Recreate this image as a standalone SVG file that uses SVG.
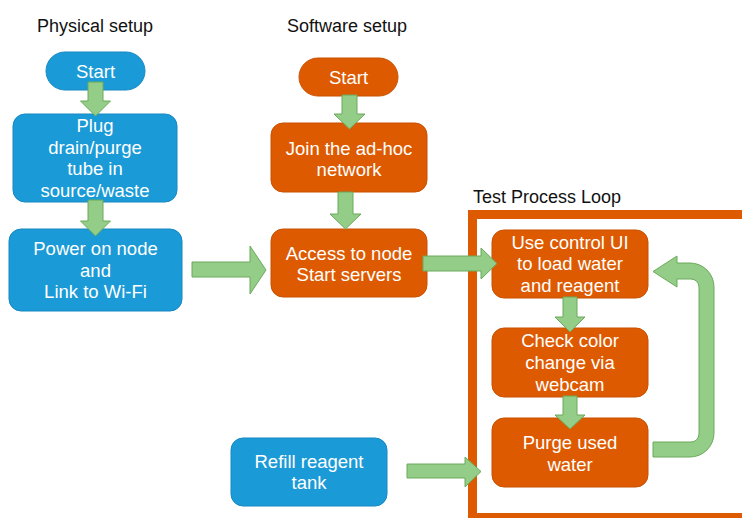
<svg xmlns="http://www.w3.org/2000/svg" width="742" height="518" viewBox="0 0 742 518">
<style>
.title{font-family:"Liberation Sans","Noto Sans",sans-serif;font-size:18px;fill:#111}
.t{font-family:"Liberation Sans","Noto Sans",sans-serif;font-size:18.5px;fill:#fff;text-anchor:middle}
.blue{fill:#1A9AD6;stroke:#1788C2;stroke-width:1}
.orange{fill:#DE5A00;stroke:#C85100;stroke-width:1}
.arrow{fill:#93CD87;stroke:#6BAA5C;stroke-width:1;stroke-linejoin:miter}
</style>
<rect width="742" height="518" fill="#fff"/>
<text class="title" x="37" y="32">Physical setup</text>
<text class="title" x="287" y="32">Software setup</text>
<g id="loop">
<rect x="472.5" y="214.5" width="300" height="303" fill="none" stroke="#DE5A00" stroke-width="9"/>
<text class="title" x="473" y="203">Test Process Loop</text>
</g>
<g id="start1"><rect class="blue" x="46" y="52" width="99" height="38" rx="19"/><text class="t" x="95.5" y="78">Start</text></g>
<g id="plug"><rect class="blue" x="13" y="114" width="164" height="88" rx="12"/>
<text class="t" x="95" y="132">Plug</text><text class="t" x="95" y="153.5">drain/purge</text><text class="t" x="95" y="175">tube in</text><text class="t" x="95" y="196.5">source/waste</text></g>
<g id="power"><rect class="blue" x="9" y="229" width="173" height="82" rx="12"/>
<text class="t" x="95.5" y="255">Power on node</text><text class="t" x="95.5" y="276.5">and</text><text class="t" x="95.5" y="298">Link to Wi-Fi</text></g>
<g id="start2"><rect class="orange" x="299" y="58" width="99" height="38" rx="19"/><text class="t" x="348.5" y="84">Start</text></g>
<g id="join"><rect class="orange" x="271" y="123" width="156" height="69" rx="12"/>
<text class="t" x="349" y="155">Join the ad-hoc</text><text class="t" x="349" y="176">network</text></g>
<g id="access"><rect class="orange" x="271" y="229" width="156" height="68" rx="12"/>
<text class="t" x="349" y="260">Access to node</text><text class="t" x="349" y="281">Start servers</text></g>
<g id="use"><rect class="orange" x="492" y="230" width="156" height="68" rx="12"/>
<text class="t" x="570" y="248.5">Use control UI</text><text class="t" x="570" y="270">to load water</text><text class="t" x="570" y="291.5">and reagent</text></g>
<g id="check"><rect class="orange" x="492" y="328" width="156" height="69" rx="12"/>
<text class="t" x="570" y="347">Check color</text><text class="t" x="570" y="369">change via</text><text class="t" x="570" y="391">webcam</text></g>
<g id="purge"><rect class="orange" x="492" y="418" width="156" height="69" rx="12"/>
<text class="t" x="570" y="449">Purge used</text><text class="t" x="570" y="471">water</text></g>
<g id="refill"><rect class="blue" x="231" y="438" width="156" height="68" rx="12"/>
<text class="t" x="309" y="468">Refill reagent</text><text class="t" x="309" y="489">tank</text></g>
<g id="connectors">
<polygon class="arrow" points="88,82 103,82 103,101 110.5,101 95.5,116 80.5,101 88,101"/>
<polygon class="arrow" points="88,200 103,200 103,221 110.5,221 95.5,236 80.5,221 88,221"/>
<polygon class="arrow" points="342,95 357,95 357,114 365,114 349.5,129 334,114 342,114"/>
<polygon class="arrow" points="338,192 353,192 353,214 361,214 345.5,229 330,214 338,214"/>
<polygon class="arrow" points="192,262 250,262 250,246 266,270 250,294 250,277 192,277"/>
<polygon class="arrow" points="423,256 481,256 481,248 497,263.5 481,279 481,271 423,271"/>
<polygon class="arrow" points="563,297 577,297 577,317 585,317 570,332 555,317 563,317"/>
<polygon class="arrow" points="563,396 577,396 577,415 585,415 570,429 555,415 563,415"/>
<polygon class="arrow" points="407,464 465,464 465,457 481,471.5 465,487 465,478 407,478"/>
<path class="arrow" d="M653,457 L690,457 A24,24 0 0 0 714,433 L714,287 A24,24 0 0 0 690,263 L677,263 L677,256 L653,271.5 L677,287 L677,279 L691,279 A8,8 0 0 1 699,287 L699,434 A8,8 0 0 1 691,442 L653,442 Z"/>
</g>
</svg>
